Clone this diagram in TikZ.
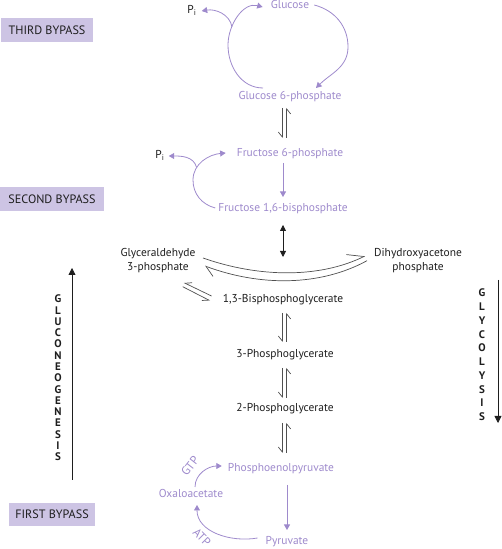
\documentclass[tikz,border=0pt]{standalone}
\usepackage{fontspec}
\setmainfont{PT Sans}
\usetikzlibrary{arrows.meta,calc}
\definecolor{lav}{RGB}{158,138,204}
\definecolor{boxc}{RGB}{205,196,228}
\definecolor{eqc}{RGB}{80,80,80}
\definecolor{ink}{RGB}{30,30,30}
\newcommand\eqpair[4]{%
  \draw[eqln,-{Straight Barb[harpoon,swap,length=5bp,width=8bp]}] ($(#1.center -| ax)+(-2.2,-#3)$) -- ($(#2.center -| ax)+(-2.2,#4)$);
  \draw[eqln,-{Straight Barb[harpoon,swap,length=5bp,width=8bp]}] ($(#2.center -| ax)+(2.2,#4)$) -- ($(#1.center -| ax)+(2.2,-#3)$);}
\begin{document}
\begin{tikzpicture}[x=1bp,y=1bp,
  every node/.style={inner sep=0pt},
  txt/.style={font=\fontsize{11.5}{14}\selectfont, text=ink, text height=8.1bp, text depth=2.3bp},
  lavtxt/.style={txt, text=lav},
  txtb/.style={font=\fontsize{11.5}{14}\selectfont, text=ink, align=center},
  bypass/.style={fill=boxc, font=\fontsize{12.2}{13}\selectfont, text=ink, minimum height=24bp},
  lavarr/.style={draw=lav, line width=0.8bp, -{Triangle[length=5.5bp,width=6bp]}},
  blkarr/.style={draw=ink, line width=0.8bp, -{Triangle[length=7bp,width=7bp]}},
  blkdbl/.style={draw=ink, line width=0.8bp, {Triangle[length=6bp,width=6bp]}-{Triangle[length=6bp,width=6bp]}},
  eqln/.style={draw=eqc, line width=0.7bp},
  stack/.style={font=\bfseries\fontsize{11}{#1}\selectfont, text=ink, align=center}
]
\useasboundingbox (0,0) rectangle (502,549);
\coordinate (ax) at (284.5,0);

% bypass boxes
\node[bypass, minimum width=92bp] (b3) at (47,519) {THIRD BYPASS};
\node[bypass, minimum width=104bp] (b2) at (52,350) {SECOND BYPASS};
\node[bypass, minimum width=86bp, minimum height=23.3bp] (b1) at (52,34.7) {FIRST BYPASS};

% compounds
\node[lavtxt] (glc) at (290,543) {Glucose};
\node[txt] (pi1) at (192,538) {P\textsubscript{i}};
\node[lavtxt] (g6p) at (290,452) {Glucose 6-phosphate};
\node[lavtxt] (f6p) at (290,395) {Fructose 6-phosphate};
\node[txt] (pi2) at (160,393) {P\textsubscript{i}};
\node[lavtxt] (f16) at (283,340) {Fructose 1,6-bisphosphate};
\node[txtb] (g3p) at (158,288) {Glyceraldehyde\\3-phosphate};
\node[txtb] (dhap) at (418,288) {Dihydroxyacetone\\phosphate};
\node[txt] (bpg) at (283,249) {1,3-Bisphosphoglycerate};
\node[txt] (pg3) at (285,194) {3-Phosphoglycerate};
\node[txt] (pg2) at (285,140) {2-Phosphoglycerate};
\node[lavtxt] (pep) at (281,80) {Phosphoenolpyruvate};
\node[lavtxt] (pyr) at (287,7) {Pyruvate};
\node[lavtxt] (oaa) at (191,54) {Oxaloacetate};
\node[lavtxt, font=\fontsize{12}{14}\selectfont, rotate=52] (gtp) at (191,82) {GTP};
\node[lavtxt, font=\fontsize{12}{14}\selectfont, rotate=-45] (atp) at (201,11) {ATP};

% side labels
\node[stack=11.33] (gng) at (58,171) {G\\L\\U\\C\\O\\N\\E\\O\\G\\E\\N\\E\\S\\I\\S};
\node[stack=13.8] (gly) at (482,194) {G\\L\\Y\\C\\O\\L\\Y\\S\\I\\S};
\coordinate (gn0) at (72,69); \coordinate (gn1) at (72,281);
\draw[blkarr] (gn0) -- (gn1);
\coordinate (gl0) at (498,269); \coordinate (gl1) at (498,126);
\draw[blkarr] (gl0) -- (gl1);

% third bypass
\coordinate (e3l) at (228,504);
\coordinate (e3r) at (348,502);
\draw[lavarr] ($(g6p)+(-27,9)$) to[out=180,in=270] (e3l) to[out=90,in=165] ($(glc.west)+(-8,-1)$);
\draw[lavarr] ($(glc.east)+(5,1)$) to[out=-15,in=90] (e3r) to[out=270,in=45] ($(g6p)+(26,9)$);
\coordinate (br1) at (232,522);
\draw[lavarr] (br1) to[out=100,in=10] ($(pi1.east)+(5,0)$);

% equilibria
\eqpair{g6p}{f6p}{11}{16}
\eqpair{bpg}{pg3}{13}{13}
\eqpair{pg3}{pg2}{13}{11}
\eqpair{pg2}{pep}{14}{16}

% second bypass
\draw[lavarr] ($(f6p.center -| f16.center)+(0,-9)$) -- ($(f16)+(0,12)$);
\coordinate (e2l) at (193,369);
\draw[lavarr] ($(f16.west)+(-3,1)$) to[out=165,in=270] (e2l) to[out=90,in=185] ($(f6p.west)+(-11,1)$);
\coordinate (br2) at (196.6,381.6);
\draw[lavarr] (br2) to[out=105,in=0] ($(pi2.east)+(4,0)$);

% aldolase / triose phosphate isomerase
\coordinate (bend) at (283,292);
\draw[blkdbl] ($(f16)+(0,-16)$) -- (bend);
\coordinate (tu0) at (203,291); \coordinate (tu1) at (365,293);
\coordinate (tl0) at (367,288.3); \coordinate (tl1) at (205,283);
\draw[eqln,-{Straight Barb[harpoon,length=15bp,width=19bp]}] (tu0) .. controls (260,271) and (320,271) .. (tu1);
\draw[eqln,-{Straight Barb[harpoon,length=10bp,width=14bp]}] (tl0) .. controls (320,262.6) and (260,262.6) .. (tl1);
\coordinate (du0) at (211.5,253); \coordinate (du1) at (184,266.3);
\coordinate (dl0) at (182.7,262.3); \coordinate (dl1) at (210,248.3);
\draw[eqln,-{Straight Barb[harpoon,swap,length=6bp,width=7bp]}] (du0) -- (du1);
\draw[eqln,-{Straight Barb[harpoon,swap,length=6bp,width=7bp]}] (dl0) -- (dl1);

% first bypass
\draw[lavarr] ($(pep.center -| pyr.center)+(0,-16)$) -- ($(pyr)+(0,12)$);
\draw[lavarr] ($(pyr.west)+(-8,4)$) to[out=190,in=270] ($(oaa)+(6,-10)$);
\draw[lavarr] ($(oaa)+(4,8)$) to[out=90,in=180] ($(pep.west)+(-6,3)$);
\end{tikzpicture}
\end{document}
